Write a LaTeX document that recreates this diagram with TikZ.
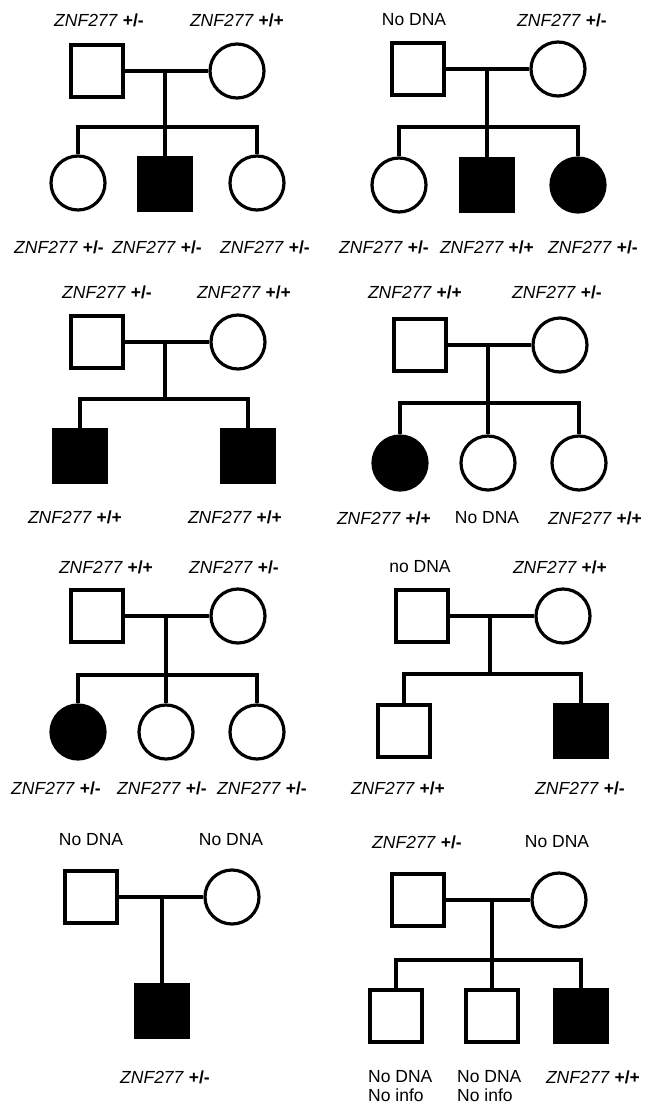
\documentclass[tikz,border=0pt]{standalone}
\usepackage{fontspec}
\setmainfont{Liberation Sans}
\usepackage{tikz}

\tikzset{
  male/.style={draw,rectangle,minimum size=52pt,inner sep=0pt,line width=3.2pt},
  female/.style={draw,circle,minimum size=54pt,inner sep=0pt,line width=3.2pt},
  aff/.style={fill=black},
  lbl/.style={font=\fontsize{17.5}{19.5}\selectfont,inner sep=0pt},
  tie/.style={line width=3.2pt}
}
\newcommand{\gtype}[1]{\textit{ZNF277} \textbf{#1}}

\begin{document}
\begin{tikzpicture}[x=1pt,y=-1pt]
		\useasboundingbox (0,0) rectangle (652,1104);
		% family 1
		\node[male]       (f1)  at (97,71)  {};
		\node[female]     (m1)  at (237,71) {};
		\coordinate       (d1)  at (165,71);
		\coordinate       (s1)  at (165,127);
		\node[female]     (c1a) at (78,183)  {};
		\node[male,aff]   (c1b) at (165,184) {};
		\node[female]     (c1c) at (257,183) {};
		\draw[tie] (f1.east) -- (m1.west);
		\draw[tie] (d1) -- (c1b.north);
		\draw[tie] (c1a.north) |- (s1) -| (c1c.north);
		\node[lbl] (t1a) at (99,20)  {\gtype{+/-}};
		\node[lbl] (t1b) at (237,20) {\gtype{+/+}};
		\node[lbl] (b1a) at (59,247)  {\gtype{+/-}};
		\node[lbl] (b1b) at (157,247) {\gtype{+/-}};
		\node[lbl] (b1c) at (265,247) {\gtype{+/-}};
		% family 2
		\node[male]       (f2)  at (418,69) {};
		\node[female]     (m2)  at (558,69) {};
		\coordinate       (d2)  at (487,69);
		\coordinate       (s2)  at (487,127);
		\node[female]     (c2a) at (399,185) {};
		\node[male,aff]   (c2b) at (487,185) {};
		\node[female,aff] (c2c) at (578,185) {};
		\draw[tie] (f2.east) -- (m2.west);
		\draw[tie] (d2) -- (c2b.north);
		\draw[tie] (c2a.north) |- (s2) -| (c2c.north);
		\node[lbl] (t2a) at (414,20) {No DNA};
		\node[lbl] (t2b) at (562,20) {\gtype{+/-}};
		\node[lbl] (b2a) at (384,247) {\gtype{+/-}};
		\node[lbl] (b2b) at (487,247) {\gtype{+/+}};
		\node[lbl] (b2c) at (593,247) {\gtype{+/-}};
		% family 3
		\node[male]       (f3)  at (97,342)  {};
		\node[female]     (m3)  at (238,342) {};
		\coordinate       (d3)  at (165,342);
		\coordinate       (s3)  at (165,399);
		\node[male,aff]   (c3a) at (80,456)  {};
		\node[male,aff]   (c3b) at (248,456) {};
		\draw[tie] (f3.east) -- (m3.west);
		\draw[tie] (d3) -- (s3);
		\draw[tie] (c3a.north) |- (s3) -| (c3b.north);
		\node[lbl] (t3a) at (107,292) {\gtype{+/-}};
		\node[lbl] (t3b) at (244,292) {\gtype{+/+}};
		\node[lbl] (b3a) at (75,517)  {\gtype{+/+}};
		\node[lbl] (b3b) at (235,517) {\gtype{+/+}};
		% family 4
		\node[male]       (f4)  at (420,345) {};
		\node[female]     (m4)  at (560,345) {};
		\coordinate       (d4)  at (488,345);
		\coordinate       (s4)  at (488,403);
		\node[female,aff] (c4a) at (400,463) {};
		\node[female]     (c4b) at (488,463) {};
		\node[female]     (c4c) at (579,463) {};
		\draw[tie] (f4.east) -- (m4.west);
		\draw[tie] (d4) -- (c4b.north);
		\draw[tie] (c4a.north) |- (s4) -| (c4c.north);
		\node[lbl] (t4a) at (415,292) {\gtype{+/+}};
		\node[lbl] (t4b) at (557,292) {\gtype{+/-}};
		\node[lbl] (b4a) at (384,518) {\gtype{+/+}};
		\node[lbl] (b4b) at (487,518) {No DNA};
		\node[lbl] (b4c) at (595,518) {\gtype{+/+}};
		% family 5
		\node[male]       (f5)  at (97,616)  {};
		\node[female]     (m5)  at (238,616) {};
		\coordinate       (d5)  at (166,616);
		\coordinate       (s5)  at (166,675);
		\node[female,aff] (c5a) at (78,732)  {};
		\node[female]     (c5b) at (166,732) {};
		\node[female]     (c5c) at (257,732) {};
		\draw[tie] (f5.east) -- (m5.west);
		\draw[tie] (d5) -- (c5b.north);
		\draw[tie] (c5a.north) |- (s5) -| (c5c.north);
		\node[lbl] (t5a) at (106,567) {\gtype{+/+}};
		\node[lbl] (t5b) at (234,567) {\gtype{+/-}};
		\node[lbl] (b5a) at (56,788)  {\gtype{+/-}};
		\node[lbl] (b5b) at (162,788) {\gtype{+/-}};
		\node[lbl] (b5c) at (262,788) {\gtype{+/-}};
		% family 6
		\node[male]       (f6)  at (422,616) {};
		\node[female]     (m6)  at (563,616) {};
		\coordinate       (d6)  at (490,616);
		\coordinate       (s6)  at (490,674);
		\node[male]       (c6a) at (404,731) {};
		\node[male,aff]   (c6b) at (581,731) {};
		\draw[tie] (f6.east) -- (m6.west);
		\draw[tie] (d6) -- (s6);
		\draw[tie] (c6a.north) |- (s6) -| (c6b.north);
		\node[lbl] (t6a) at (420,567) {no DNA};
		\node[lbl] (t6b) at (560,567) {\gtype{+/+}};
		\node[lbl] (b6a) at (398,788) {\gtype{+/+}};
		\node[lbl] (b6b) at (580,788) {\gtype{+/-}};
		% family 7
		\node[male]       (f7)  at (91,897)   {};
		\node[female]     (m7)  at (232,897)  {};
		\coordinate       (d7)  at (162,897);
		\node[male,aff]   (c7a) at (162,1011) {};
		\draw[tie] (f7.east) -- (m7.west);
		\draw[tie] (d7) -- (c7a.north);
		\node[lbl] (t7a) at (91,840)   {No DNA};
		\node[lbl] (t7b) at (231,840)  {No DNA};
		\node[lbl] (b7a) at (165,1077) {\gtype{+/-}};
		% family 8
		\node[male]       (f8)  at (418,900)  {};
		\node[female]     (m8)  at (559,900)  {};
		\coordinate       (d8)  at (492,900);
		\coordinate       (s8)  at (492,960);
		\node[male]       (c8a) at (396,1016) {};
		\node[male]       (c8b) at (492,1016) {};
		\node[male,aff]   (c8c) at (581,1016) {};
		\draw[tie] (f8.east) -- (m8.west);
		\draw[tie] (d8) -- (c8b.north);
		\draw[tie] (c8a.north) |- (s8) -| (c8c.north);
		\node[lbl] (t8a) at (417,842) {\gtype{+/-}};
		\node[lbl] (t8b) at (557,842) {No DNA};
		\node[lbl,align=left,anchor=west] (b8a) at (368,1086) {No DNA\\No info};
		\node[lbl,align=left,anchor=west] (b8b) at (457,1086) {No DNA\\No info};
		\node[lbl] (b8c) at (593,1077) {\gtype{+/+}};
	\end{tikzpicture}
\end{document}
